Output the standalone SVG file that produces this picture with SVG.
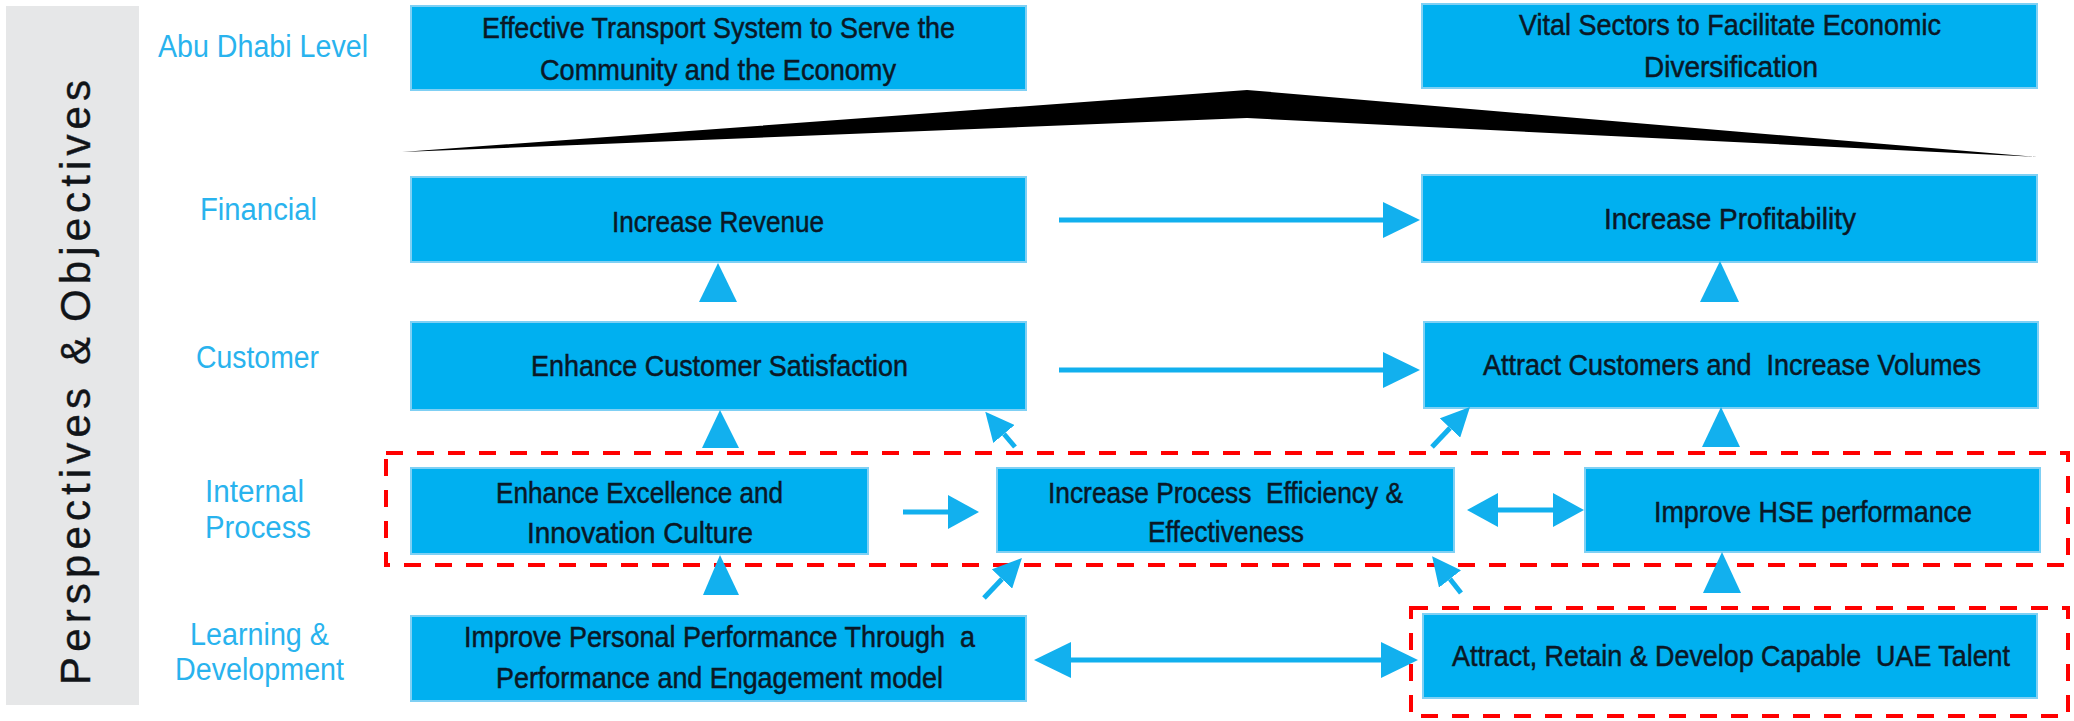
<svg xmlns="http://www.w3.org/2000/svg" width="2074" height="721" viewBox="0 0 2074 721">
<style>
.node rect{fill:#00b0f0;stroke:#7fd0f4;stroke-width:2}
.nt{font-family:"Liberation Sans Narrow","Liberation Sans",Arial,sans-serif;font-size:29px;fill:#0a1826;stroke:#0a1826;stroke-width:0.5;text-anchor:middle}
.lbl{font-family:"Liberation Sans Narrow","Liberation Sans",Arial,sans-serif;font-size:31px;fill:#29b3ee}
.side{font-family:"Liberation Sans",Arial,sans-serif;font-size:42px;fill:#111418;stroke:#111418;stroke-width:0.4}
.shaft{stroke:#12b0ee;stroke-width:5;fill:none}
.tri{fill:#12b0ee}
.dash{fill:none;stroke:#ff0000;stroke-width:4;stroke-dasharray:17 14}
</style>
<defs>
<marker id="ah" viewBox="0 0 37 36" refX="0" refY="18" markerWidth="37" markerHeight="36" markerUnits="userSpaceOnUse" orient="auto-start-reverse"><path d="M0,0 L37,18 L0,36 z" fill="#12b0ee"/></marker>
<marker id="am" viewBox="0 0 31 34" refX="0" refY="17" markerWidth="31" markerHeight="34" markerUnits="userSpaceOnUse" orient="auto-start-reverse"><path d="M0,0 L31,17 L0,34 z" fill="#12b0ee"/></marker>
<marker id="as" viewBox="0 0 29 28" refX="0" refY="14" markerWidth="29" markerHeight="28" markerUnits="userSpaceOnUse" orient="auto"><path d="M0,0 L29,14 L0,28 z" fill="#12b0ee"/></marker>
</defs>
<rect width="2074" height="721" fill="#ffffff"/>
<g id="sidebar">
<rect x="6" y="6" width="133" height="699" fill="#e6e7e8"/>
<g transform="translate(90,685) rotate(-90)">
<text class="side" x="0" y="0" textLength="297">Perspectives</text>
<text class="side" x="320" y="0" textLength="28">&amp;</text>
<text class="side" x="363" y="0" textLength="242">Objectives</text>
</g>
</g>
<g id="row-labels">
<text class="lbl" x="158" y="57" textLength="210" lengthAdjust="spacingAndGlyphs">Abu Dhabi Level</text>
<text class="lbl" x="200" y="220" textLength="117" lengthAdjust="spacingAndGlyphs">Financial</text>
<text class="lbl" x="196" y="368" textLength="123" lengthAdjust="spacingAndGlyphs">Customer</text>
<text class="lbl" x="205" y="502" textLength="99" lengthAdjust="spacingAndGlyphs">Internal</text>
<text class="lbl" x="205" y="538" textLength="106" lengthAdjust="spacingAndGlyphs">Process</text>
<text class="lbl" x="190" y="645" textLength="139" lengthAdjust="spacingAndGlyphs">Learning &amp;</text>
<text class="lbl" x="175" y="680" textLength="169" lengthAdjust="spacingAndGlyphs">Development</text>
</g>
<g id="wedge">
<polygon points="402,152 1247,90 2037,157 1247,118" fill="#000000"/>
</g>
<g id="n-transport" class="node">
<rect x="411" y="6" width="615" height="84"/>
<text class="nt" x="718.5" y="38" textLength="473" lengthAdjust="spacingAndGlyphs">Effective Transport System to Serve the</text>
<text class="nt" x="718" y="80" textLength="356" lengthAdjust="spacingAndGlyphs">Community and the Economy</text>
</g>
<g id="n-vital" class="node">
<rect x="1422" y="4" width="615" height="84"/>
<text class="nt" x="1730" y="35" textLength="422" lengthAdjust="spacingAndGlyphs">Vital Sectors to Facilitate Economic</text>
<text class="nt" x="1731" y="77" textLength="174" lengthAdjust="spacingAndGlyphs">Diversification</text>
</g>
<g id="n-revenue" class="node">
<rect x="411" y="177" width="615" height="85"/>
<text class="nt" x="718" y="232" textLength="212" lengthAdjust="spacingAndGlyphs">Increase Revenue</text>
</g>
<g id="n-profit" class="node">
<rect x="1422" y="175" width="615" height="87"/>
<text class="nt" x="1730" y="229" textLength="252" lengthAdjust="spacingAndGlyphs">Increase Profitability</text>
</g>
<g id="n-custsat" class="node">
<rect x="411" y="322" width="615" height="88"/>
<text class="nt" x="719.5" y="376" textLength="377" lengthAdjust="spacingAndGlyphs">Enhance Customer Satisfaction</text>
</g>
<g id="n-attract" class="node">
<rect x="1424" y="322" width="614" height="86"/>
<text class="nt" x="1732" y="375" textLength="498" lengthAdjust="spacingAndGlyphs" xml:space="preserve">Attract Customers and  Increase Volumes</text>
</g>
<g id="n-excellence" class="node">
<rect x="411" y="468" width="457" height="86"/>
<text class="nt" x="639.5" y="503" textLength="287" lengthAdjust="spacingAndGlyphs">Enhance Excellence and</text>
<text class="nt" x="640" y="543" textLength="226" lengthAdjust="spacingAndGlyphs">Innovation Culture</text>
</g>
<g id="n-process" class="node">
<rect x="997" y="468" width="457" height="84"/>
<text class="nt" x="1225.5" y="503" textLength="355" lengthAdjust="spacingAndGlyphs" xml:space="preserve">Increase Process  Efficiency &amp;</text>
<text class="nt" x="1226" y="542" textLength="156" lengthAdjust="spacingAndGlyphs">Effectiveness</text>
</g>
<g id="n-hse" class="node">
<rect x="1585" y="468" width="455" height="84"/>
<text class="nt" x="1813" y="522" textLength="318" lengthAdjust="spacingAndGlyphs">Improve HSE performance</text>
</g>
<g id="n-personal" class="node">
<rect x="411" y="616" width="615" height="85"/>
<text class="nt" x="719.5" y="647" textLength="511" lengthAdjust="spacingAndGlyphs" xml:space="preserve">Improve Personal Performance Through  a</text>
<text class="nt" x="719.5" y="688" textLength="447" lengthAdjust="spacingAndGlyphs">Performance and Engagement model</text>
</g>
<g id="n-talent" class="node">
<rect x="1423" y="614" width="614" height="84"/>
<text class="nt" x="1731" y="666" textLength="558" lengthAdjust="spacingAndGlyphs" xml:space="preserve">Attract, Retain &amp; Develop Capable  UAE Talent</text>
</g>
<g id="groups">
<rect class="dash" x="386" y="453" width="1682" height="112"/>
<rect class="dash" x="1411" y="608" width="657" height="108"/>
</g>
<g id="connectors">
<line class="shaft" x1="1059" y1="220" x2="1383" y2="220" marker-end="url(#ah)"/>
<line class="shaft" x1="1059" y1="370" x2="1383" y2="370" marker-end="url(#ah)"/>
<line class="shaft" x1="903" y1="512" x2="948" y2="512" marker-end="url(#am)"/>
<line class="shaft" x1="1498" y1="510" x2="1553" y2="510" marker-start="url(#am)" marker-end="url(#am)"/>
<line class="shaft" x1="1071" y1="660" x2="1381" y2="660" marker-start="url(#ah)" marker-end="url(#ah)"/>
<line class="shaft" x1="1015" y1="447" x2="1004" y2="434" marker-end="url(#as)"/>
<line class="shaft" x1="1432" y1="447" x2="1450" y2="428" marker-end="url(#as)"/>
<line class="shaft" x1="984" y1="598" x2="1002" y2="579" marker-end="url(#as)"/>
<line class="shaft" x1="1461" y1="593" x2="1450" y2="579" marker-end="url(#as)"/>
<polygon class="tri" points="718,263 699,302 737,302"/>
<polygon class="tri" points="1720,261 1700,302 1739,302"/>
<polygon class="tri" points="720,410 702,448 739,448"/>
<polygon class="tri" points="1721,407 1702,447 1740,447"/>
<polygon class="tri" points="720,555 703,595 739,595"/>
<polygon class="tri" points="1722,552 1703,593 1741,593"/>
</g>
</svg>
